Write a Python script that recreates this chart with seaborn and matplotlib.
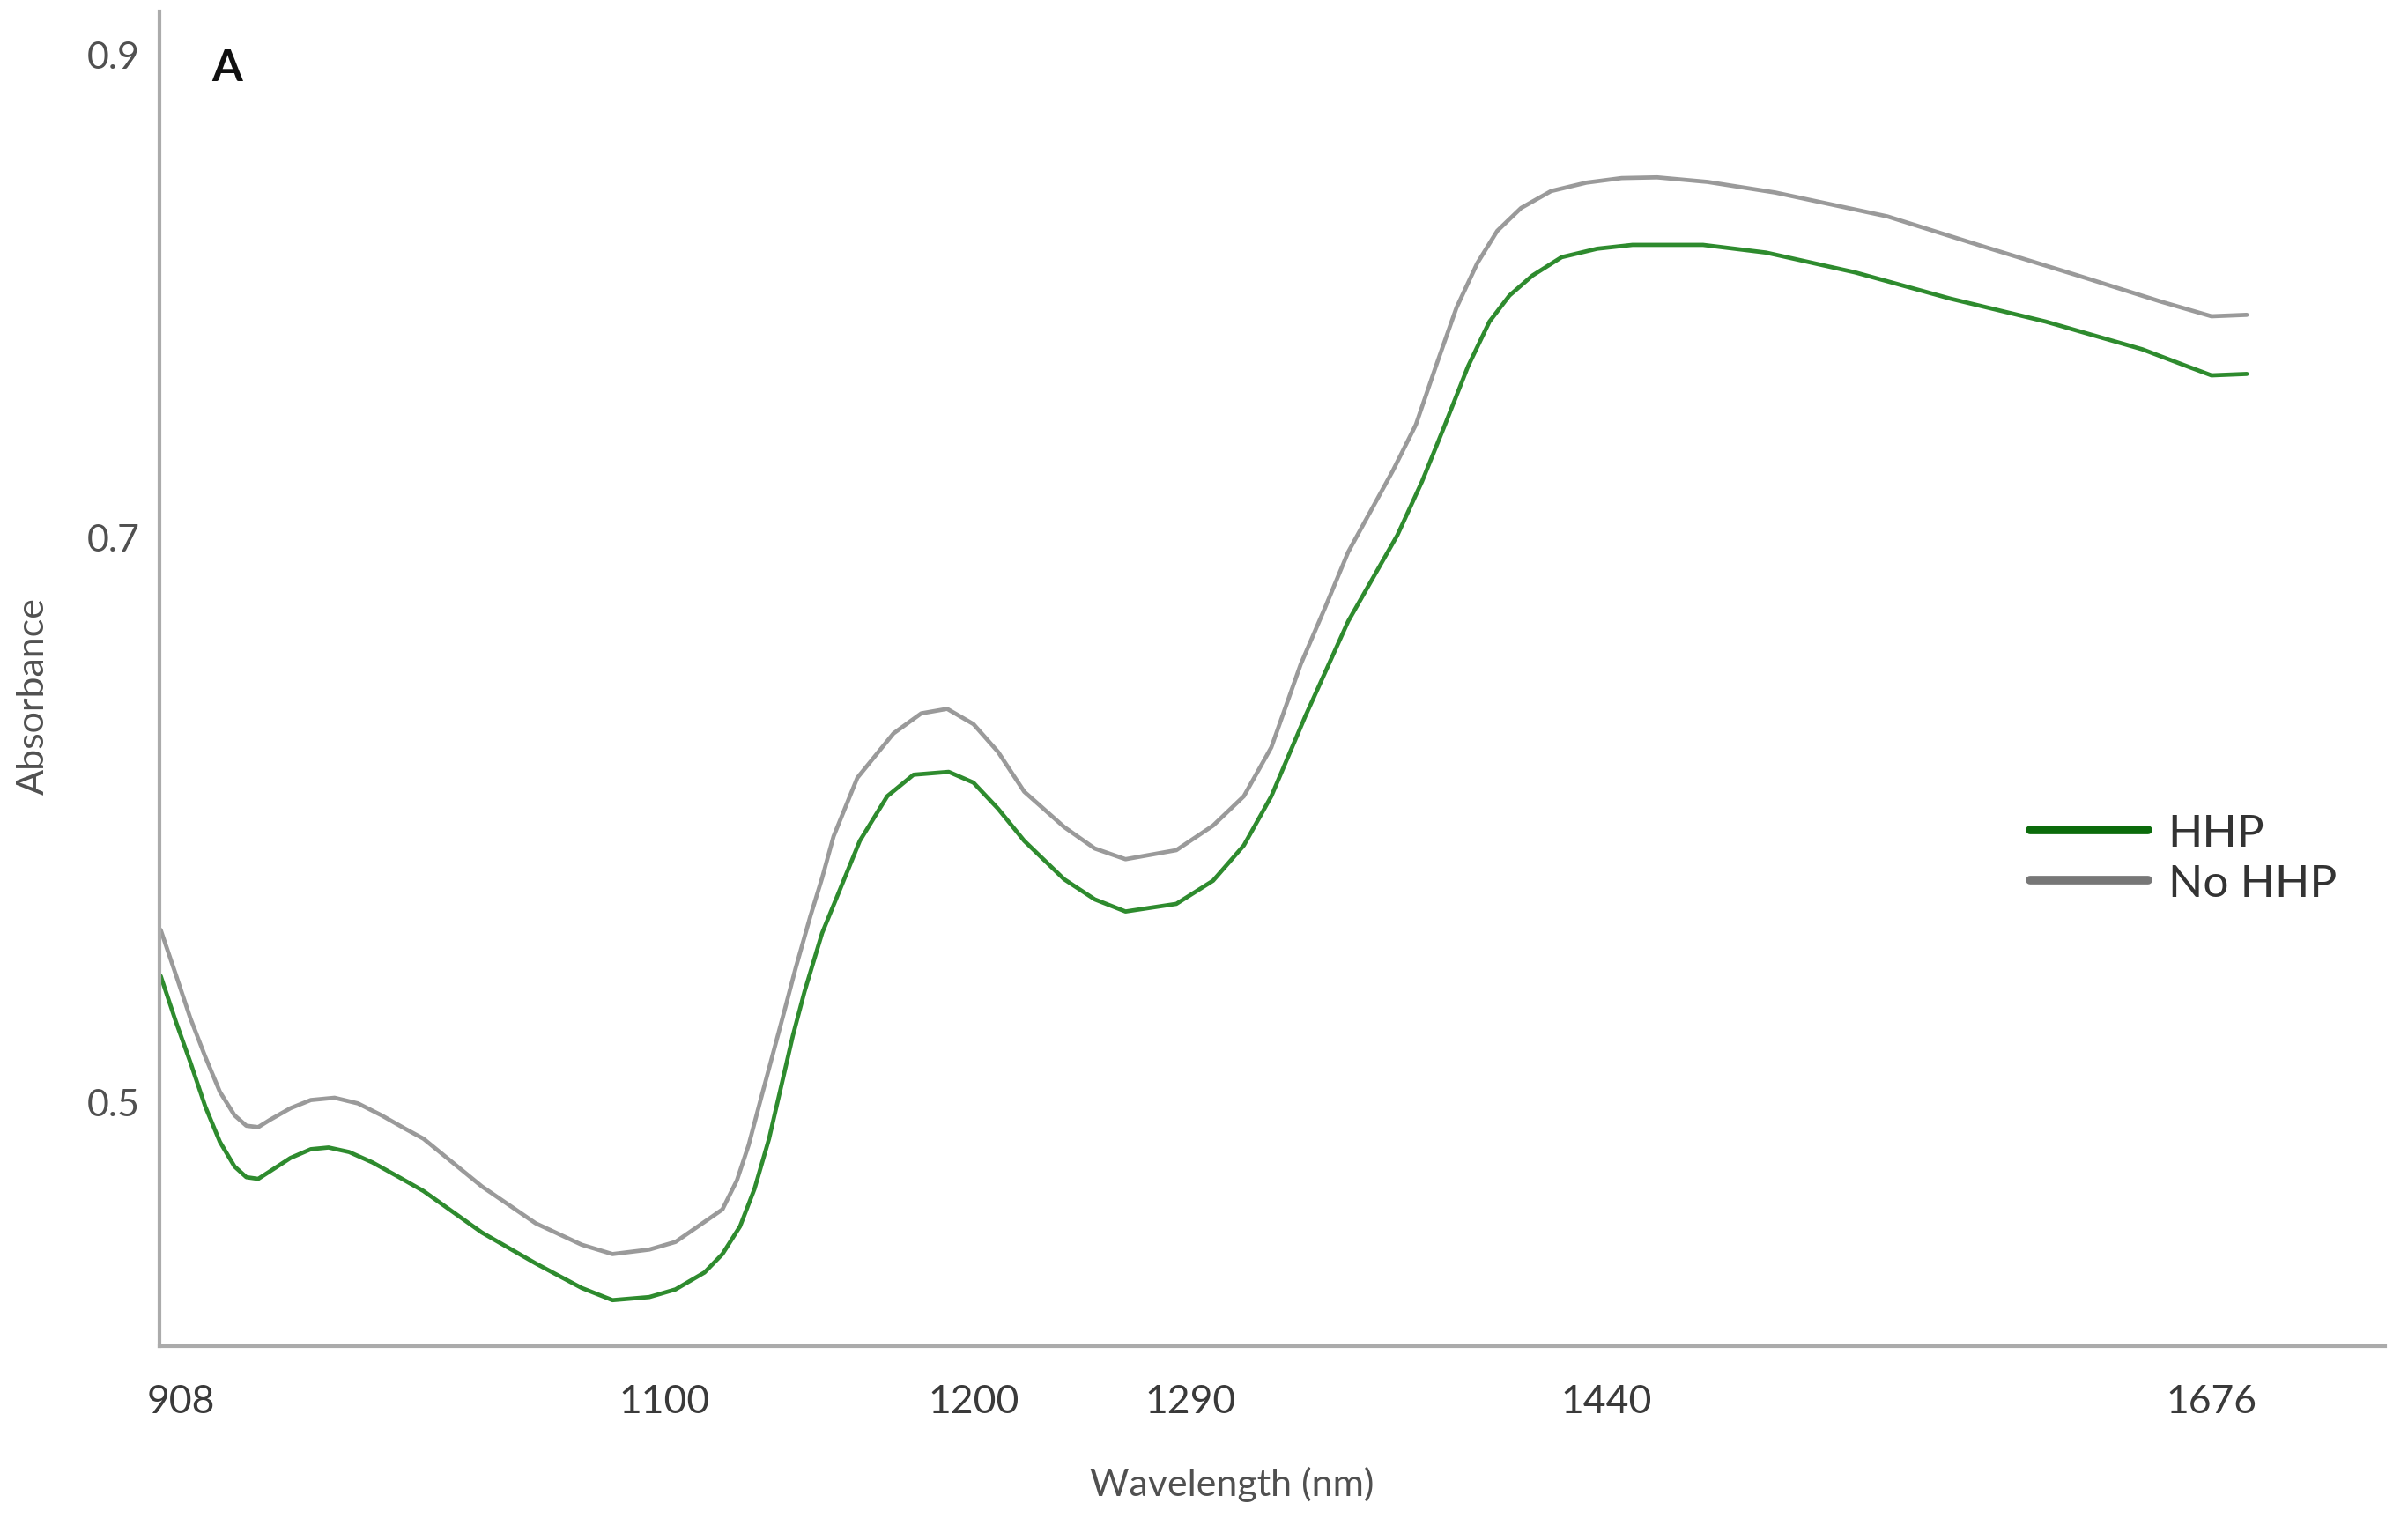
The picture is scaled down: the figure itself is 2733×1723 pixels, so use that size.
import numpy as np
import pandas as pd
import matplotlib
matplotlib.use("Agg")
import matplotlib.pyplot as plt
import seaborn as sns

# ---------------- data ----------------
hhp_wavelength = [900.0, 906.0, 911.8, 917.7, 923.5, 929.3, 934.0, 938.7, 943.4, 951.5,
                  959.6, 966.6, 974.8, 984.1, 994.6, 1004.3, 1027.5, 1048.8, 1067.1, 1079.3,
                  1093.9, 1103.5, 1112.9, 1118.7, 1124.4, 1129.1, 1133.8, 1137.7, 1141.5, 1145.3,
                  1151.0, 1156.7, 1163.2, 1172.1, 1180.6, 1192.0, 1200.0, 1210.2, 1221.1, 1237.7,
                  1250.4, 1263.2, 1284.3, 1298.3, 1309.4, 1319.3, 1331.5, 1347.0, 1364.7, 1373.6,
                  1381.9, 1390.2, 1397.9, 1405.1, 1413.4, 1423.9, 1436.7, 1450.2, 1477.7, 1502.3,
                  1537.0, 1574.2, 1611.3, 1649.0, 1666.4, 1676.0, 1689.8]
hhp_absorbance = [0.5446, 0.5285, 0.5140, 0.4984, 0.4859, 0.4772, 0.4734, 0.4728, 0.4755, 0.4802,
                  0.4833, 0.4839, 0.4823, 0.4786, 0.4734, 0.4685, 0.4538, 0.4429, 0.4342, 0.4299,
                  0.4310, 0.4337, 0.4397, 0.4462, 0.4560, 0.4693, 0.4870, 0.5054, 0.5234, 0.5391,
                  0.5598, 0.5750, 0.5924, 0.6082, 0.6158, 0.6168, 0.6130, 0.6038, 0.5924, 0.5788,
                  0.5717, 0.5674, 0.5701, 0.5783, 0.5908, 0.6082, 0.6364, 0.6701, 0.7006, 0.7229,
                  0.7465, 0.7707, 0.7892, 0.8000, 0.8083, 0.8159, 0.8194, 0.8210, 0.8210, 0.8178,
                  0.8096, 0.7987, 0.7892, 0.7777, 0.7707, 0.7669, 0.7675]

nohhp_wavelength = [900.0, 906.0, 911.8, 917.7, 923.5, 929.3, 934.0, 938.7, 943.4, 951.5,
                    959.6, 969.0, 978.3, 987.6, 996.9, 1004.3, 1027.5, 1048.8, 1067.1, 1079.3,
                    1093.9, 1103.5, 1112.9, 1118.7, 1123.4, 1127.2, 1131.0, 1134.8, 1138.6, 1142.4,
                    1147.2, 1151.0, 1154.7, 1162.4, 1174.1, 1183.1, 1191.5, 1200.0, 1210.2, 1221.1,
                    1237.7, 1250.4, 1263.2, 1284.3, 1298.3, 1309.4, 1319.3, 1329.9, 1338.7, 1347.0,
                    1363.1, 1371.4, 1378.6, 1386.0, 1393.5, 1400.7, 1409.3, 1420.1, 1432.8, 1446.0,
                    1459.8, 1479.5, 1505.9, 1549.6, 1586.8, 1623.9, 1656.2, 1676.0, 1689.8]
nohhp_absorbance = [0.5609, 0.5451, 0.5296, 0.5160, 0.5036, 0.4953, 0.4916, 0.4911, 0.4937, 0.4978,
                    0.5007, 0.5015, 0.4995, 0.4953, 0.4906, 0.4870, 0.4701, 0.4571, 0.4495, 0.4462,
                    0.4478, 0.4505, 0.4576, 0.4620, 0.4723, 0.4848, 0.5005, 0.5160, 0.5315, 0.5473,
                    0.5658, 0.5793, 0.5940, 0.6147, 0.6304, 0.6375, 0.6391, 0.6337, 0.6239, 0.6098,
                    0.5973, 0.5897, 0.5859, 0.5891, 0.5978, 0.6082, 0.6255, 0.6549, 0.6750, 0.6946,
                    0.7274, 0.7465, 0.7707, 0.7949, 0.8134, 0.8268, 0.8363, 0.8433, 0.8468, 0.8487,
                    0.8490, 0.8471, 0.8427, 0.8328, 0.8204, 0.8083, 0.7975, 0.7914, 0.7920]

series_labels = ["HHP", "No HHP"]
x_tick_labels = [908, 1100, 1200, 1290, 1440, 1676]
y_tick_labels = [0.5, 0.7, 0.9]

# ---------------- layout of the (uneven) axes in the reference ----------------
x_tick_pos = [118, 433, 634, 775, 1046, 1440]      # where the wavelength labels sit
y_tick_pos = [282, 650, 964]                        # where the absorbance labels sit


def make_piecewise(vals, pos):
    vals = np.asarray(vals, float)
    pos = np.asarray(pos, float)
    s0 = (pos[1] - pos[0]) / (vals[1] - vals[0])
    s1 = (pos[-1] - pos[-2]) / (vals[-1] - vals[-2])
    span = (vals[-1] - vals[0])
    xv = np.concatenate([[vals[0] - 10 * span], vals, [vals[-1] + 10 * span]])
    xp = np.concatenate([[pos[0] - 10 * span * s0], pos, [pos[-1] + 10 * span * s1]])

    def fwd(v):
        return np.interp(v, xv, xp)

    def inv(p):
        return np.interp(p, xp, xv)
    return fwd, inv


df = pd.concat([
    pd.DataFrame({"Wavelength": hhp_wavelength, "Absorbance": hhp_absorbance, "Sample": series_labels[0]}),
    pd.DataFrame({"Wavelength": nohhp_wavelength, "Absorbance": nohhp_absorbance, "Sample": series_labels[1]}),
], ignore_index=True)

sns.set_theme(style="white")
plt.rcParams["font.family"] = ["Lato", "DejaVu Sans"]

fig = plt.figure(figsize=(27.33, 17.24), dpi=100)
ax = fig.add_axes([0.0662, 0.1131, 0.9243, 0.8788])

palette = {"HHP": "#2e8b2e", "No HHP": "#9a9a9a"}
sns.lineplot(data=df, x="Wavelength", y="Absorbance", hue="Sample", palette=palette,
             hue_order=series_labels, linewidth=3.4, ax=ax, estimator=None, sort=False)
for ln in ax.get_lines():
    ln.set_solid_joinstyle("round")
    ln.set_solid_capstyle("round")

fx, ix = make_piecewise(x_tick_labels, x_tick_pos)
fy, iy = make_piecewise(y_tick_labels, y_tick_pos)
ax.set_xscale("function", functions=(fx, ix))
ax.set_yscale("function", functions=(fy, iy))
ax.set_xlim(899.5, 1743.7)
ax.set_ylim(0.4136, 0.9178)

ax.set_xticks(x_tick_labels)
ax.set_xticklabels([str(v) for v in x_tick_labels])
ax.set_yticks(y_tick_labels)
ax.set_yticklabels([f"{v:.1f}" for v in y_tick_labels])
ax.minorticks_off()
ax.tick_params(axis="x", length=0, pad=30, labelsize=32, labelcolor="#3a3a3a")
ax.tick_params(axis="y", length=0, pad=16, labelsize=31, labelcolor="#505050")

for s in ["top", "right"]:
    ax.spines[s].set_visible(False)
for s in ["left", "bottom"]:
    ax.spines[s].set_color("#ababab")
    ax.spines[s].set_linewidth(3.0)

ax.set_xlabel("")
ax.set_ylabel("")
fig.text(1398 / 2733, 1 - 1685 / 1724, "Wavelength (nm)", ha="center", va="center",
         fontsize=31, color="#505050")
fig.text(38 / 2733, 1 - 790 / 1724, "Absorbance", ha="center", va="center",
         rotation=90, fontsize=31, color="#505050")
fig.text(258 / 2733, 1 - 78 / 1724, "A", ha="center", va="center",
         fontsize=36, fontweight="bold", color="#111111")

handles, labels = ax.get_legend_handles_labels()
leg = ax.legend(handles, labels, loc="upper left", bbox_to_anchor=(2304 / 2733, 1 - 924 / 1724),
                bbox_transform=fig.transFigure, frameon=False, fontsize=37,
                handlelength=2.6, handletextpad=0.45, labelspacing=0.22,
                borderpad=0, borderaxespad=0)
legend_colors = ["#0b6b0b", "#777777"]
for line, c in zip(leg.get_lines(), legend_colors):
    line.set_linewidth(7)
    line.set_color(c)
for t in leg.get_texts():
    t.set_color("#333333")

fig.savefig("out.png", dpi=100)
